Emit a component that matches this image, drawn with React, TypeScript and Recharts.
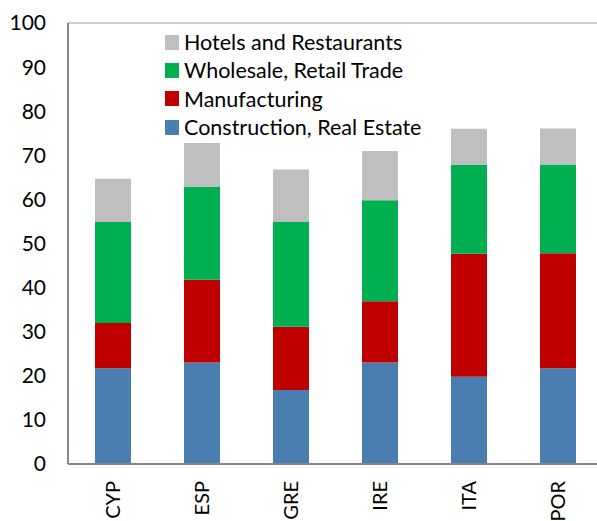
import React from "react";
import { BarChart, Bar, XAxis, YAxis, ReferenceLine } from "recharts";

const countries = ["CYP", "ESP", "GRE", "IRE", "ITA", "POR"];
const construction = [21.7, 23.0, 16.8, 23.0, 19.8, 21.7];
const manufacturing = [10.3, 18.8, 14.3, 13.9, 27.9, 26.1];
const wholesale = [22.9, 21.0, 23.8, 22.9, 20.1, 20.1];
const hotels = [9.8, 10.0, 11.9, 11.2, 8.2, 8.2];
const yTicks = [0, 10, 20, 30, 40, 50, 60, 70, 80, 90, 100];

const seriesNames = [
  "Construction, Real Estate",
  "Manufacturing",
  "Wholesale, Retail Trade",
  "Hotels and Restaurants",
];
const colors = ["#4A7EB0", "#C00000", "#00B050", "#BFBFBF"];

const data = countries.map((c, i) => ({
  name: c,
  s0: construction[i],
  s1: manufacturing[i],
  s2: wholesale[i],
  s3: hotels[i],
}));

const FONT = "Lato, 'Open Sans', sans-serif";

const XTick = (props: any) => {
  const { x, y, payload } = props;
  return (
    <g transform={`translate(${x},${y + 9})`}>
      <text
        transform="rotate(-90)"
        x={0}
        y={0}
        dy="0.36em"
        textAnchor="end"
        fill="#000"
        fontSize={20}
        fontFamily={FONT}
      >
        {payload.value}
      </text>
    </g>
  );
};

const LegendBox = () => {
  const order = [3, 2, 1, 0];
  return (
    <div
      style={{
        position: "absolute",
        left: 165,
        top: 28,
        fontFamily: FONT,
        fontSize: 21.5,
        color: "#000",
      }}
    >
      {order.map((k) => (
        <div
          key={k}
          style={{ display: "flex", alignItems: "center", height: 28.3 }}
        >
          <div
            style={{
              width: 14,
              height: 15,
              background: colors[k],
              marginRight: 5,
            }}
          />
          <span style={{ whiteSpace: "nowrap" }}>{seriesNames[k]}</span>
        </div>
      ))}
    </div>
  );
};

export default function App() {
  return (
    <div
      style={{
        position: "fixed",
        left: 0,
        top: 0,
        width: 597,
        height: 521,
        overflow: "hidden",
        background: "#fff",
      }}
    >
      <BarChart
        width={602}
        height={521}
        data={data}
        margin={{ top: 23, right: 0, bottom: 0, left: 0 }}
        barSize={36}
      >
        <ReferenceLine y={100} stroke="#BFBFBF" strokeWidth={1.5} />
        <XAxis
          dataKey="name"
          height={57}
          axisLine={{ stroke: "#868686", strokeWidth: 2 }}
          tickLine={false}
          tick={<XTick />}
          interval={0}
        />
        <YAxis
          width={68}
          domain={[0, 100]}
          ticks={yTicks}
          interval={0}
          axisLine={{ stroke: "#868686", strokeWidth: 2 }}
          tickLine={false}
          tickMargin={16}
          tick={{ fill: "#000", fontSize: 21, fontFamily: FONT }}
        />
        <Bar dataKey="s0" stackId="a" fill={colors[0]} isAnimationActive={false} />
        <Bar dataKey="s1" stackId="a" fill={colors[1]} isAnimationActive={false} />
        <Bar dataKey="s2" stackId="a" fill={colors[2]} isAnimationActive={false} />
        <Bar dataKey="s3" stackId="a" fill={colors[3]} isAnimationActive={false} />
      </BarChart>
      <LegendBox />
    </div>
  );
}
